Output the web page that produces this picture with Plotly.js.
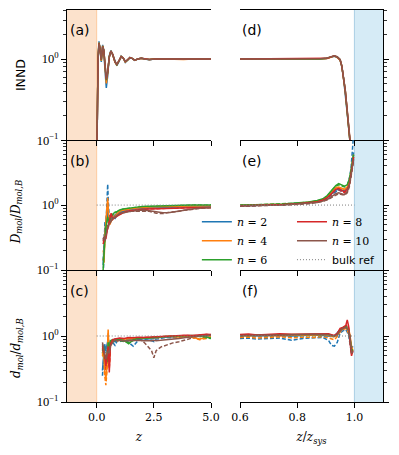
<!DOCTYPE html>
<html><head><meta charset="utf-8">
<script src="https://cdn.plot.ly/plotly-3.0.1.min.js"></script>
<style>html,body{margin:0;padding:0;background:#fff;}</style>
</head><body><div id="chart" style="width:399px;height:455px;"></div>
<script>
// ---------------- DATA ----------------
const seriesLabels = ['2', '4', '6', '8', '10'];
const seriesColors = ['#1f77b4', '#ff7f0e', '#2ca02c', '#d62728', '#8c564b'];

// (a) INND vs z
const z_a = [0.0, 0.03, 0.06, 0.1, 0.15, 0.2, 0.26, 0.31, 0.36, 0.42, 0.48, 0.55, 0.62, 0.7, 0.8, 0.88, 0.97, 1.07, 1.16, 1.25, 1.35, 1.45, 1.55, 1.66, 1.8, 1.95, 2.1, 2.3, 2.6, 3.0, 3.4, 3.8, 4.2, 4.6, 5.0];
const innd_n2  = [0.04, 0.3, 1.1, 1.66, 1.3, 0.92, 1.5, 1.25, 0.75, 0.44, 0.62, 1.1, 1.28, 1.12, 0.9, 0.83, 0.93, 1.09, 1.03, 0.91, 0.97, 1.05, 1.02, 0.96, 1.0, 1.03, 1.0, 0.98, 1.01, 1.0, 0.99, 1.0, 1.01, 1.0, 1.0];
const innd_n4  = [0.05, 0.34, 1.05, 1.6, 1.32, 0.95, 1.46, 1.27, 0.8, 0.5, 0.66, 1.08, 1.26, 1.13, 0.91, 0.85, 0.94, 1.08, 1.03, 0.92, 0.97, 1.04, 1.02, 0.97, 1.0, 1.02, 1.0, 0.99, 1.01, 1.0, 1.0, 0.99, 1.0, 1.01, 1.0];
const innd_n6  = [0.05, 0.33, 1.02, 1.58, 1.33, 0.97, 1.44, 1.28, 0.82, 0.55, 0.68, 1.07, 1.25, 1.14, 0.92, 0.85, 0.94, 1.07, 1.03, 0.93, 0.97, 1.04, 1.02, 0.97, 1.0, 1.02, 1.0, 0.99, 1.0, 1.01, 1.0, 1.0, 0.99, 1.0, 1.0];
const innd_n8  = [0.05, 0.32, 1.0, 1.56, 1.34, 0.98, 1.43, 1.28, 0.83, 0.56, 0.69, 1.06, 1.25, 1.14, 0.92, 0.86, 0.95, 1.07, 1.03, 0.93, 0.98, 1.04, 1.02, 0.97, 1.0, 1.02, 1.01, 0.99, 1.0, 1.0, 1.01, 1.0, 1.0, 0.99, 1.0];
const innd_n10 = [0.05, 0.31, 0.98, 1.55, 1.35, 1.0, 1.42, 1.29, 0.84, 0.57, 0.7, 1.05, 1.24, 1.15, 0.93, 0.86, 0.95, 1.06, 1.03, 0.94, 0.98, 1.03, 1.02, 0.97, 1.0, 1.02, 1.0, 0.99, 1.0, 1.0, 1.0, 1.0, 1.0, 1.0, 1.0];

// (d) INND vs z/z_sys
const zr_d = [0.6, 0.65, 0.7, 0.75, 0.8, 0.85, 0.88, 0.9, 0.91, 0.92, 0.93, 0.94, 0.95, 0.956, 0.962, 0.968, 0.974, 0.98, 0.986, 0.99];
const inndR_n2  = [1.0, 1.0, 0.99, 1.0, 1.0, 1.0, 1.0, 1.01, 1.03, 1.07, 1.08, 1.05, 0.97, 0.8, 0.58, 0.39, 0.23, 0.14, 0.09, 0.06];
const inndR_n4  = [1.0, 0.99, 1.0, 1.0, 1.0, 0.99, 1.0, 1.01, 1.03, 1.07, 1.09, 1.05, 0.97, 0.81, 0.59, 0.4, 0.24, 0.15, 0.095, 0.06];
const inndR_n6  = [1.0, 1.0, 1.0, 0.99, 1.0, 1.0, 1.0, 1.02, 1.04, 1.08, 1.09, 1.06, 0.98, 0.82, 0.6, 0.41, 0.24, 0.15, 0.1, 0.06];
const inndR_n8  = [1.0, 1.0, 1.0, 1.0, 1.0, 1.0, 1.01, 1.02, 1.04, 1.08, 1.1, 1.06, 0.98, 0.82, 0.61, 0.41, 0.25, 0.15, 0.1, 0.06];
const inndR_n10 = [1.0, 1.0, 1.0, 1.0, 0.99, 1.0, 1.01, 1.02, 1.05, 1.09, 1.1, 1.07, 0.99, 0.83, 0.61, 0.42, 0.25, 0.16, 0.1, 0.065];

// (b) D_mol/D_mol,B vs z  (solid and dashed estimates)
const z_b = [0.28, 0.32, 0.36, 0.4, 0.44, 0.48, 0.52, 0.57, 0.63, 0.7, 0.8, 0.9, 1.0, 1.15, 1.3, 1.5, 1.75, 2.0, 2.3, 2.6, 2.9, 3.2, 3.5, 3.8, 4.1, 4.4, 4.7, 5.0];
const dm_n2   = [0.12, 0.25, 0.4, 0.55, 0.75, 0.9, 0.6, 0.55, 0.62, 0.62, 0.7, 0.73, 0.78, 0.8, 0.84, 0.86, 0.88, 0.9, 0.92, 0.92, 0.93, 0.94, 0.94, 0.95, 0.95, 0.96, 0.96, 0.97];
const dm_n2d  = [0.07, 0.2, 0.55, 0.45, 1.1, 2.1, 0.9, 0.58, 0.6, 0.65, 0.62, 0.7, 0.75, 0.8, 0.83, 0.85, 0.88, 0.9, 0.9, 0.92, 0.93, 0.93, 0.94, 0.95, 0.96, 0.95, 0.96, 0.97];
const dm_n4   = [0.15, 0.13, 0.35, 0.5, 0.9, 1.3, 0.7, 0.5, 0.56, 0.63, 0.68, 0.75, 0.8, 0.83, 0.86, 0.88, 0.9, 0.92, 0.93, 0.94, 0.95, 0.95, 0.96, 0.96, 0.97, 0.97, 0.98, 0.98];
const dm_n4d  = [0.2, 0.17, 0.3, 0.6, 0.75, 1.1, 0.65, 0.55, 0.6, 0.66, 0.7, 0.74, 0.78, 0.82, 0.85, 0.87, 0.9, 0.91, 0.93, 0.93, 0.94, 0.95, 0.95, 0.96, 0.97, 0.97, 0.97, 0.98];
const dm_n6   = [0.1, 0.2, 0.3, 0.45, 0.6, 0.66, 0.56, 0.62, 0.66, 0.72, 0.78, 0.8, 0.84, 0.87, 0.89, 0.91, 0.93, 0.95, 0.96, 0.97, 0.98, 0.98, 0.99, 0.99, 1.0, 1.0, 1.0, 1.0];
const dm_n6d  = [0.14, 0.24, 0.28, 0.5, 0.55, 0.7, 0.6, 0.6, 0.68, 0.7, 0.76, 0.79, 0.83, 0.86, 0.88, 0.9, 0.92, 0.94, 0.95, 0.96, 0.97, 0.98, 0.98, 0.99, 0.99, 1.0, 0.99, 1.0];
const dm_n8   = [0.25, 0.3, 0.33, 0.3, 0.38, 0.45, 0.5, 0.6, 0.75, 0.62, 0.65, 0.68, 0.72, 0.76, 0.8, 0.82, 0.85, 0.86, 0.87, 0.88, 0.89, 0.89, 0.9, 0.9, 0.91, 0.91, 0.92, 0.92];
const dm_n8d  = [0.28, 0.27, 0.35, 0.33, 0.4, 0.42, 0.55, 0.58, 0.7, 0.6, 0.66, 0.7, 0.73, 0.77, 0.8, 0.83, 0.84, 0.86, 0.88, 0.88, 0.89, 0.9, 0.9, 0.91, 0.91, 0.92, 0.92, 0.93];
const dm_n10  = [0.3, 0.32, 0.28, 0.35, 0.4, 0.45, 0.5, 0.52, 0.58, 0.62, 0.66, 0.7, 0.74, 0.76, 0.78, 0.8, 0.82, 0.84, 0.82, 0.78, 0.76, 0.77, 0.8, 0.84, 0.87, 0.89, 0.9, 0.92];
const dm_n10d = [0.28, 0.35, 0.3, 0.38, 0.42, 0.48, 0.47, 0.55, 0.6, 0.6, 0.64, 0.7, 0.73, 0.75, 0.79, 0.8, 0.8, 0.82, 0.8, 0.75, 0.74, 0.78, 0.79, 0.83, 0.86, 0.88, 0.9, 0.91];

// (e) D_mol/D_mol,B vs z/z_sys
const zr_e = [0.6, 0.65, 0.7, 0.75, 0.8, 0.84, 0.87, 0.89, 0.905, 0.92, 0.935, 0.945, 0.955, 0.965, 0.975, 0.982, 0.988, 0.993, 0.997];
const dmR_n2   = [0.98, 0.98, 1.0, 1.02, 1.05, 1.1, 1.15, 1.2, 1.3, 1.5, 1.7, 1.75, 1.7, 1.65, 1.8, 2.2, 3.0, 4.5, 6.5];
const dmR_n2d  = [0.97, 0.99, 1.0, 1.01, 1.04, 1.08, 1.12, 1.18, 1.28, 1.45, 1.6, 1.7, 1.65, 1.7, 1.9, 2.5, 3.6, 6.0, 12];
const dmR_n4   = [0.99, 1.0, 1.0, 1.03, 1.06, 1.1, 1.14, 1.22, 1.35, 1.6, 1.85, 1.9, 1.8, 1.75, 1.9, 2.3, 3.2, 4.8, 6.0];
const dmR_n4d  = [0.98, 0.99, 1.01, 1.02, 1.05, 1.09, 1.13, 1.2, 1.32, 1.55, 1.8, 1.85, 1.75, 1.7, 1.85, 2.2, 3.0, 4.5, 5.5];
const dmR_n6   = [1.0, 1.0, 1.02, 1.04, 1.08, 1.12, 1.18, 1.25, 1.4, 1.7, 2.0, 2.15, 2.05, 1.95, 2.05, 2.5, 3.4, 5.0, 6.0];
const dmR_n6d  = [0.99, 1.01, 1.01, 1.03, 1.07, 1.11, 1.16, 1.23, 1.38, 1.65, 1.95, 2.05, 1.95, 1.9, 2.0, 2.4, 3.3, 4.8, 5.8];
const dmR_n8   = [0.98, 0.99, 1.0, 1.02, 1.05, 1.09, 1.13, 1.2, 1.3, 1.5, 1.75, 1.8, 1.7, 1.6, 1.75, 2.1, 3.0, 4.2, 5.5];
const dmR_n8d  = [0.97, 0.98, 1.0, 1.01, 1.04, 1.08, 1.12, 1.18, 1.27, 1.45, 1.7, 1.72, 1.62, 1.55, 1.7, 2.0, 2.9, 4.0, 5.2];
const dmR_n10  = [0.97, 0.97, 0.99, 1.0, 1.03, 1.06, 1.1, 1.15, 1.22, 1.35, 1.5, 1.55, 1.5, 1.45, 1.6, 2.0, 2.8, 4.0, 5.0];
const dmR_n10d = [0.96, 0.97, 0.98, 1.0, 1.02, 1.05, 1.09, 1.14, 1.2, 1.32, 1.45, 1.5, 1.45, 1.42, 1.55, 1.9, 2.7, 3.8, 4.8];

// (c) d_mol/d_mol,B vs z
const z_c = [0.25, 0.3, 0.35, 0.4, 0.45, 0.5, 0.55, 0.6, 0.7, 0.8, 0.9, 1.0, 1.2, 1.4, 1.6, 1.8, 2.0, 2.2, 2.4, 2.5, 2.6, 2.8, 3.0, 3.3, 3.6, 3.9, 4.2, 4.5, 4.8, 5.0];
const dd_n2   = [0.3, 0.55, 0.75, 0.6, 0.7, 0.9, 0.75, 0.8, 0.85, 0.82, 0.85, 0.87, 0.85, 0.88, 0.9, 0.9, 0.92, 0.92, 0.9, 0.93, 0.95, 0.95, 0.96, 0.97, 0.98, 1.0, 1.0, 1.02, 1.0, 1.0];
const dd_n2d  = [0.25, 0.5, 0.7, 0.55, 0.65, 0.8, 0.6, 0.78, 0.8, 0.72, 0.85, 0.82, 0.88, 0.8, 0.7, 0.85, 0.9, 0.88, 0.85, 0.82, 0.9, 0.92, 0.95, 0.94, 0.97, 0.98, 0.97, 1.0, 0.98, 0.97];
const dd_n4   = [0.5, 0.6, 0.3, 0.22, 0.35, 1.25, 0.5, 0.75, 0.85, 0.88, 0.85, 0.9, 0.9, 0.92, 0.9, 0.93, 0.92, 0.95, 0.94, 0.95, 0.96, 0.97, 0.98, 0.98, 0.97, 1.0, 0.96, 0.9, 0.95, 0.98];
const dd_n4d  = [0.55, 0.45, 0.25, 0.18, 0.3, 1.1, 0.35, 0.7, 0.82, 0.85, 0.83, 0.88, 0.86, 0.9, 0.88, 0.9, 0.93, 0.92, 0.95, 0.94, 0.93, 0.96, 0.97, 0.98, 0.96, 0.98, 0.95, 0.88, 0.92, 0.96];
const dd_n6   = [0.6, 0.7, 0.45, 0.5, 0.4, 0.8, 0.6, 0.85, 0.88, 0.85, 0.9, 0.88, 0.85, 0.76, 0.88, 0.92, 0.94, 0.93, 0.95, 0.96, 0.96, 0.97, 0.98, 0.99, 1.0, 1.0, 1.02, 1.0, 0.95, 0.93];
const dd_n6d  = [0.55, 0.65, 0.4, 0.45, 0.38, 0.75, 0.55, 0.8, 0.85, 0.82, 0.88, 0.85, 0.82, 0.8, 0.85, 0.9, 0.92, 0.94, 0.93, 0.95, 0.96, 0.96, 0.97, 0.98, 0.99, 1.0, 1.0, 0.98, 0.93, 0.92];
const dd_n8   = [0.7, 0.6, 0.5, 0.35, 0.45, 0.7, 0.28, 0.75, 0.88, 0.9, 0.92, 0.93, 0.92, 0.95, 0.94, 0.96, 0.95, 0.96, 0.97, 0.98, 0.97, 0.99, 1.0, 1.0, 1.02, 1.03, 1.02, 1.05, 1.06, 1.05];
const dd_n8d  = [0.65, 0.55, 0.45, 0.3, 0.4, 0.65, 0.32, 0.72, 0.85, 0.88, 0.9, 0.9, 0.9, 0.93, 0.92, 0.94, 0.95, 0.95, 0.96, 0.97, 0.96, 0.98, 0.99, 1.0, 1.01, 1.02, 1.01, 1.04, 1.05, 1.04];
const dd_n10  = [0.8, 0.65, 0.55, 0.45, 0.5, 0.6, 0.55, 0.7, 0.8, 0.88, 0.85, 0.86, 0.84, 0.85, 0.86, 0.86, 0.85, 0.84, 0.85, 0.86, 0.85, 0.86, 0.88, 0.9, 0.92, 0.95, 0.98, 1.0, 1.02, 1.04];
const dd_n10d = [0.75, 0.6, 0.5, 0.4, 0.55, 0.65, 0.6, 0.75, 0.85, 0.9, 0.88, 0.9, 0.9, 0.92, 0.9, 0.88, 0.85, 0.72, 0.6, 0.47, 0.6, 0.68, 0.72, 0.78, 0.82, 0.88, 0.95, 1.0, 1.02, 1.05];

// (f) d_mol/d_mol,B vs z/z_sys
const zr_f = [0.6, 0.63, 0.66, 0.7, 0.74, 0.78, 0.82, 0.86, 0.89, 0.91, 0.92, 0.93, 0.94, 0.95, 0.96, 0.97, 0.975, 0.98, 0.985, 0.99, 0.995];
const ddR_n2   = [1.0, 1.02, 1.0, 1.01, 1.03, 1.0, 1.02, 1.04, 1.02, 1.0, 0.98, 1.0, 1.1, 1.25, 1.3, 1.35, 1.3, 1.2, 0.9, 0.65, 0.7];
const ddR_n2d  = [0.92, 0.93, 0.9, 0.92, 0.93, 0.86, 0.92, 0.94, 0.95, 0.85, 0.72, 0.7, 0.8, 1.1, 1.2, 1.25, 1.15, 1.0, 0.7, 0.55, 0.6];
const ddR_n4   = [1.02, 1.0, 1.03, 1.02, 1.0, 1.03, 1.04, 1.02, 1.05, 1.02, 1.0, 0.98, 1.05, 1.2, 1.3, 1.35, 1.25, 1.3, 1.0, 0.7, 0.6];
const ddR_n4d  = [0.95, 0.96, 0.93, 0.95, 0.97, 0.94, 0.96, 0.95, 0.98, 0.93, 0.9, 0.88, 0.98, 1.15, 1.25, 1.3, 1.2, 1.1, 0.85, 0.6, 0.55];
const ddR_n6   = [1.03, 1.02, 1.04, 1.03, 1.05, 1.04, 1.05, 1.06, 1.07, 1.05, 1.03, 1.0, 1.08, 1.25, 1.35, 1.4, 1.3, 1.25, 0.9, 0.6, 0.62];
const ddR_n6d  = [1.0, 0.99, 1.01, 1.0, 1.02, 1.0, 1.02, 1.03, 1.04, 1.02, 1.0, 0.97, 1.05, 1.2, 1.3, 1.35, 1.28, 1.2, 0.88, 0.62, 0.6];
const ddR_n8   = [1.05, 1.07, 1.04, 1.06, 1.08, 1.06, 1.07, 1.08, 1.1, 1.08, 1.05, 1.02, 1.1, 1.3, 1.35, 1.45, 1.75, 1.4, 0.8, 0.5, 0.6];
const ddR_n8d  = [1.02, 1.04, 1.02, 1.03, 1.05, 1.03, 1.04, 1.05, 1.07, 1.05, 1.02, 1.0, 1.08, 1.25, 1.32, 1.4, 1.5, 1.3, 0.85, 0.55, 0.58];
const ddR_n10  = [1.02, 1.03, 1.02, 1.04, 1.03, 1.05, 1.05, 1.06, 1.06, 1.05, 1.02, 1.0, 1.05, 1.2, 1.3, 1.35, 1.3, 1.2, 0.95, 0.55, 0.58];
const ddR_n10d = [1.0, 1.01, 1.0, 1.02, 1.01, 1.03, 1.03, 1.04, 1.04, 1.03, 1.0, 0.98, 1.03, 1.18, 1.28, 1.32, 1.28, 1.15, 0.9, 0.55, 0.56];

// bulk reference
const bulkX_left = [0, 5];
const bulkX_right = [0.6, 1.0];
const bulkY = [1, 1];

// axis ticks
const yTickVals = [0.1, 1];
const yTickText = ['10<sup>\u22121</sup>', '10<sup>0</sup>'];
const yMinorVals = [0.2, 0.3, 0.4, 0.5, 0.6, 0.7, 0.8, 0.9, 2, 3, 4, 5, 6, 7, 8, 9];
const xLeftTicks = [0, 2.5, 5];
const xLeftText = ['0.0', '2.5', '5.0'];
const xRightTicks = [0.6, 0.8, 1.0];
const xRightText = ['0.6', '0.8', '1.0'];

// ---------------- BUILD ----------------
const traces = [];
function addSet(xs, ysList, xa, ya, dash, legendOpts) {
  ysList.forEach((ys, i) => {
    const t = {
      x: xs, y: ys, xaxis: xa, yaxis: ya, type: 'scatter', mode: 'lines',
      line: {color: seriesColors[i], width: 1.5, dash: dash || 'solid'},
      name: '<i>n</i> = ' + seriesLabels[i], showlegend: false, hoverinfo: 'skip'
    };
    if (legendOpts) { t.showlegend = true; t.legend = i < 3 ? 'legend' : 'legend2'; }
    traces.push(t);
  });
}
const DASH = '4px,2px';
addSet(z_a, [innd_n2, innd_n4, innd_n6, innd_n8, innd_n10], 'x', 'y');
addSet(zr_d, [inndR_n2, inndR_n4, inndR_n6, inndR_n8, inndR_n10], 'x2', 'y2');
addSet(z_b, [dm_n2d, dm_n4d, dm_n6d, dm_n8d, dm_n10d], 'x3', 'y3', DASH);
addSet(z_b, [dm_n2, dm_n4, dm_n6, dm_n8, dm_n10], 'x3', 'y3', 'solid', true);
addSet(zr_e, [dmR_n2d, dmR_n4d, dmR_n6d, dmR_n8d, dmR_n10d], 'x4', 'y4', DASH);
addSet(zr_e, [dmR_n2, dmR_n4, dmR_n6, dmR_n8, dmR_n10], 'x4', 'y4');
addSet(z_c, [dd_n2d, dd_n4d, dd_n6d, dd_n8d, dd_n10d], 'x5', 'y5', DASH);
addSet(z_c, [dd_n2, dd_n4, dd_n6, dd_n8, dd_n10], 'x5', 'y5');
addSet(zr_f, [ddR_n2d, ddR_n4d, ddR_n6d, ddR_n8d, ddR_n10d], 'x6', 'y6', DASH);
addSet(zr_f, [ddR_n2, ddR_n4, ddR_n6, ddR_n8, ddR_n10], 'x6', 'y6');

const bulkLine = {color: '#7f7f7f', width: 1, dash: '1px,2px'};
[['x3','y3',bulkX_left,true],['x4','y4',bulkX_right,false],['x5','y5',bulkX_left,false],['x6','y6',bulkX_right,false]].forEach(b => {
  traces.push({x: b[2], y: bulkY, xaxis: b[0], yaxis: b[1], type: 'scatter', mode: 'lines',
    line: bulkLine, name: '<span style="font-family:DejaVu Sans">bulk ref</span>',
    showlegend: b[3], legend: 'legend2', hoverinfo: 'skip'});
});

const rowDom = [[0.668, 1.0], [0.3367, 0.668], [0.0, 0.3367]];
const colDom = [[0.0, 0.4557], [0.5475, 1.0]];
const yRanges = [[-1, 0.605], [-1, 1], [-1, 1]];

const layout = {
  width: 399, height: 455,
  margin: {l: 67, r: 16, t: 10, b: 53},
  paper_bgcolor: '#fff', plot_bgcolor: 'rgba(0,0,0,0)',
  font: {family: 'DejaVu Serif', size: 11, color: '#000'},
  shapes: [], annotations: []
};

let k = 1;
for (let r = 0; r < 3; r++) {
  for (let c = 0; c < 2; c++) {
    const xs = k === 1 ? 'xaxis' : 'xaxis' + k;
    const ys = k === 1 ? 'yaxis' : 'yaxis' + k;
    const xid = k === 1 ? 'x' : 'x' + k;
    const yid = k === 1 ? 'y' : 'y' + k;
    layout[xs] = {
      domain: colDom[c], anchor: yid,
      range: c === 0 ? [-1.3, 5.0] : [0.6, 1.1],
      tickmode: 'array', tickvals: c === 0 ? xLeftTicks : xRightTicks,
      ticktext: c === 0 ? xLeftText : xRightText,
      showticklabels: r === 2,
      ticks: 'outside', ticklen: 5, tickwidth: 1, tickcolor: '#000',
      showline: true, linecolor: '#000', linewidth: 1, mirror: r === 0,
      showgrid: false, zeroline: false,
      tickfont: {family: 'DejaVu Serif', size: 11, color: '#000'}
    };
    if (r === 2) {
      layout[xs].title = {text: c === 0 ? '<i>z</i>' : '<i>z</i>/<i>z</i><sub><i>sys</i></sub>',
        font: {family: 'DejaVu Serif', size: 12, color: '#000'}, standoff: 9};
    }
    layout[ys] = {
      domain: rowDom[r], anchor: xid, type: 'log', range: yRanges[r],
      side: c === 0 ? 'left' : 'right',
      tickmode: 'array', tickvals: yTickVals, ticktext: yTickText,
      showticklabels: c === 0,
      ticks: 'outside', ticklen: 5, tickwidth: 1, tickcolor: '#000',
      minor: {tickmode: 'array', tickvals: yMinorVals, ticks: 'outside', ticklen: 3, tickwidth: 0.8, tickcolor: '#000', showgrid: false},
      showline: true, linecolor: '#000', linewidth: 1, mirror: false,
      showgrid: false, zeroline: false,
      tickfont: {family: 'Liberation Serif', size: 12.5, color: '#000'}
    };
    if (r === 0 && c === 0) {
      layout[ys].title = {text: 'INND', font: {family: 'DejaVu Sans', size: 12.5, color: '#000'}, standoff: 8};
    }
    k++;
  }
}

// shaded regions
layout.shapes.push({type: 'rect', xref: 'x', yref: 'paper', x0: -1.3, x1: 0, y0: 0, y1: 1,
  fillcolor: '#fce2cc', line: {width: 0}, layer: 'below'});
layout.shapes.push({type: 'line', xref: 'x', yref: 'paper', x0: 0, x1: 0, y0: 0, y1: 1,
  line: {color: 'rgba(255,127,14,0.3)', width: 1}, layer: 'below'});
layout.shapes.push({type: 'rect', xref: 'x2', yref: 'paper', x0: 1.0, x1: 1.1, y0: 0, y1: 1,
  fillcolor: '#d6ebf6', line: {width: 0}, layer: 'below'});
layout.shapes.push({type: 'line', xref: 'x2', yref: 'paper', x0: 1.0, x1: 1.0, y0: 0, y1: 1,
  line: {color: 'rgba(31,119,180,0.3)', width: 1}, layer: 'below'});

// panel labels
const panelLabels = ['(a)', '(d)', '(b)', '(e)', '(c)', '(f)'];
const labelY = [0.845, 0.845, 0.84, 0.84, 0.84, 0.84];
panelLabels.forEach((t, i) => {
  const id = i === 0 ? '' : String(i + 1);
  layout.annotations.push({text: t, xref: 'x' + id + ' domain', yref: 'y' + id + ' domain',
    x: i % 2 === 0 ? 0.01 : 0.0, y: labelY[i], xanchor: 'left', yanchor: 'middle', showarrow: false,
    font: {family: 'DejaVu Sans', size: 14, color: '#000'}});
});
// y labels for rows 2 and 3
layout.annotations.push({text: '<i>D</i><sub><i>mol</i></sub>/<i>D</i><sub><i>mol,B</i></sub>',
  xref: 'paper', yref: 'paper', x: -0.158, y: 0.484, textangle: -90, showarrow: false,
  xanchor: 'center', yanchor: 'middle', font: {family: 'DejaVu Serif', size: 12, color: '#000'}});
layout.annotations.push({text: '<i>d</i><sub><i>mol</i></sub>/<i>d</i><sub><i>mol,B</i></sub>',
  xref: 'paper', yref: 'paper', x: -0.158, y: 0.138, textangle: -90, showarrow: false,
  xanchor: 'center', yanchor: 'middle', font: {family: 'DejaVu Serif', size: 12, color: '#000'}});

const legendBase = {yanchor: 'top', xanchor: 'left', y: 0.497, bgcolor: 'rgba(255,255,255,0)',
  borderwidth: 0, font: {family: 'DejaVu Serif', size: 11, color: '#000'}, tracegroupgap: 0,
  orientation: 'v', traceorder: 'normal'};
layout.legend = Object.assign({}, legendBase, {x: 0.411});
layout.legend2 = Object.assign({}, legendBase, {x: 0.712});

Plotly.newPlot('chart', traces, layout, {staticPlot: true, displayModeBar: false});
</script></body></html>
